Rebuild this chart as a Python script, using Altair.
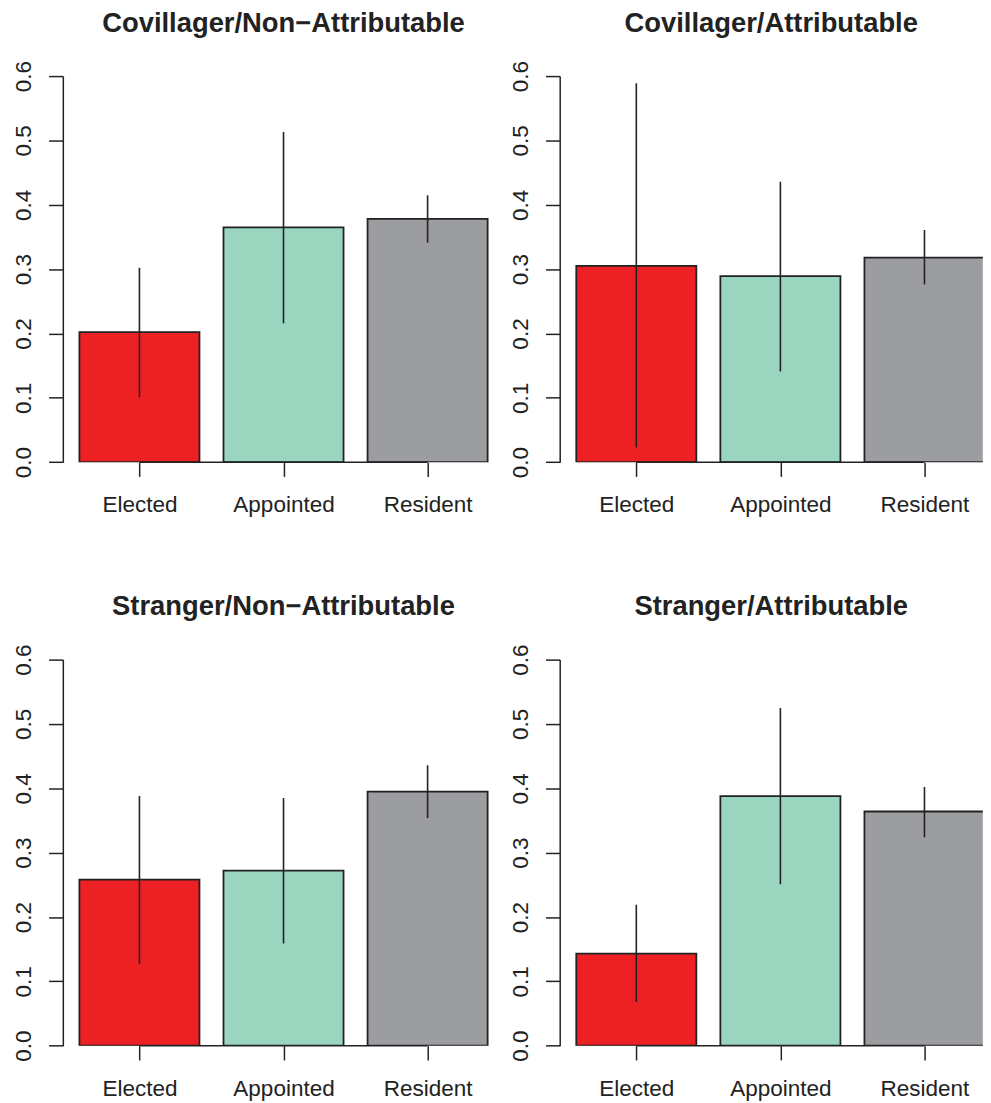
import altair as alt
import pandas as pd

# ---- data ----
groups = ["Elected", "Appointed", "Resident"]
centers = [0.7, 1.9, 3.1]
colors = ["#ED2024", "#99D5BF", "#9C9DA0"]

titles = [
    "Covillager/Non\u2212Attributable",
    "Covillager/Attributable",
    "Stranger/Non\u2212Attributable",
    "Stranger/Attributable",
]
means = [
    [0.202, 0.365, 0.378],
    [0.305, 0.289, 0.318],
    [0.258, 0.272, 0.395],
    [0.143, 0.388, 0.364],
]
lows = [
    [0.101, 0.216, 0.341],
    [0.023, 0.141, 0.276],
    [0.127, 0.159, 0.354],
    [0.068, 0.251, 0.324],
]
highs = [
    [0.302, 0.513, 0.415],
    [0.589, 0.436, 0.361],
    [0.388, 0.385, 0.436],
    [0.219, 0.525, 0.402],
]

FONT = "Liberation Sans"
PX_PER_UNIT = 121.09
X0 = 0.062
H = 389.4
W_LEFT = 445.1
W_RIGHT = 426.7


def panel(i, width):
    df = pd.DataFrame({
        "group": groups,
        "center": centers,
        "left": [c - 0.5 for c in centers],
        "right": [c + 0.5 for c in centers],
        "mean": means[i],
        "low": lows[i],
        "high": highs[i],
    })
    xmax = X0 + width / PX_PER_UNIT
    xscale = alt.Scale(domain=[X0, xmax], nice=False, zero=False)
    yscale = alt.Scale(domain=[0, 0.6], nice=False)
    label_expr = ("datum.value < 1 ? 'Elected' : datum.value < 2.5 ? 'Appointed' : 'Resident'")
    base = alt.Chart(df)
    bars = base.mark_bar(stroke="#222222", strokeWidth=1.8, clip=True).encode(
        x=alt.X("left:Q", scale=xscale,
                axis=alt.Axis(values=centers, labelExpr=label_expr, domain=False,
                              grid=False, title=None, tickSize=14.3, tickWidth=1.5,
                              tickColor="#222222", labelFont=FONT, labelFontSize=22.7,
                              labelColor="#222222", labelBaseline="alphabetic",
                              labelPadding=35.7, labelAngle=0, labelFlush=False,
                              labelOverlap=False)),
        x2="right:Q",
        y=alt.Y("mean:Q", scale=yscale,
                axis=alt.Axis(values=[0, 0.1, 0.2, 0.3, 0.4, 0.5, 0.6], format=".1f",
                              grid=False, title=None, tickSize=14.3, tickWidth=1.5,
                              tickColor="#222222", domainColor="#222222", domainWidth=1.5,
                              labelFont=FONT, labelFontSize=22.7, labelColor="#222222",
                              labelAngle=270, labelAlign="center",
                              labelBaseline="alphabetic", labelPadding=18.6,
                              labelFlush=False, labelOverlap=False)),
        y2=alt.datum(0),
        color=alt.Color("group:N", scale=alt.Scale(domain=groups, range=colors), legend=None),
    )
    base_line = alt.Chart(pd.DataFrame({"a": [centers[0]], "b": [centers[-1]], "y": [0]})).mark_rule(
        color="#222222", strokeWidth=1.5).encode(
        x=alt.X("a:Q", scale=xscale), x2="b:Q", y=alt.Y("y:Q", scale=yscale))
    errs = base.mark_rule(color="#222222", strokeWidth=1.6, clip=True).encode(
        x=alt.X("center:Q", scale=xscale), y=alt.Y("low:Q", scale=yscale), y2="high:Q")
    return alt.layer(bars, base_line, errs).properties(
        width=width, height=H,
        title=alt.TitleParams(titles[i], font=FONT, fontSize=27.6, fontWeight="bold",
                              color="#222222", anchor="middle", frame="group",
                              baseline="alphabetic", offset=1.5),
    )


chart = alt.concat(
    panel(0, W_LEFT), panel(1, W_RIGHT), panel(2, W_LEFT), panel(3, W_RIGHT),
    columns=2, spacing=55.1,
).properties(
    bounds="flush", padding={"left": 4.3, "top": -3, "right": 0, "bottom": 0},
).configure_view(stroke=None)

# separate row / column spacing
spec = chart.to_dict()
spec["spacing"] = {"row": 198.5, "column": 55.1}
chart = alt.ConcatChart.from_dict(spec)

chart.save("out.html", embed_options={"renderer": "svg", "actions": False})
